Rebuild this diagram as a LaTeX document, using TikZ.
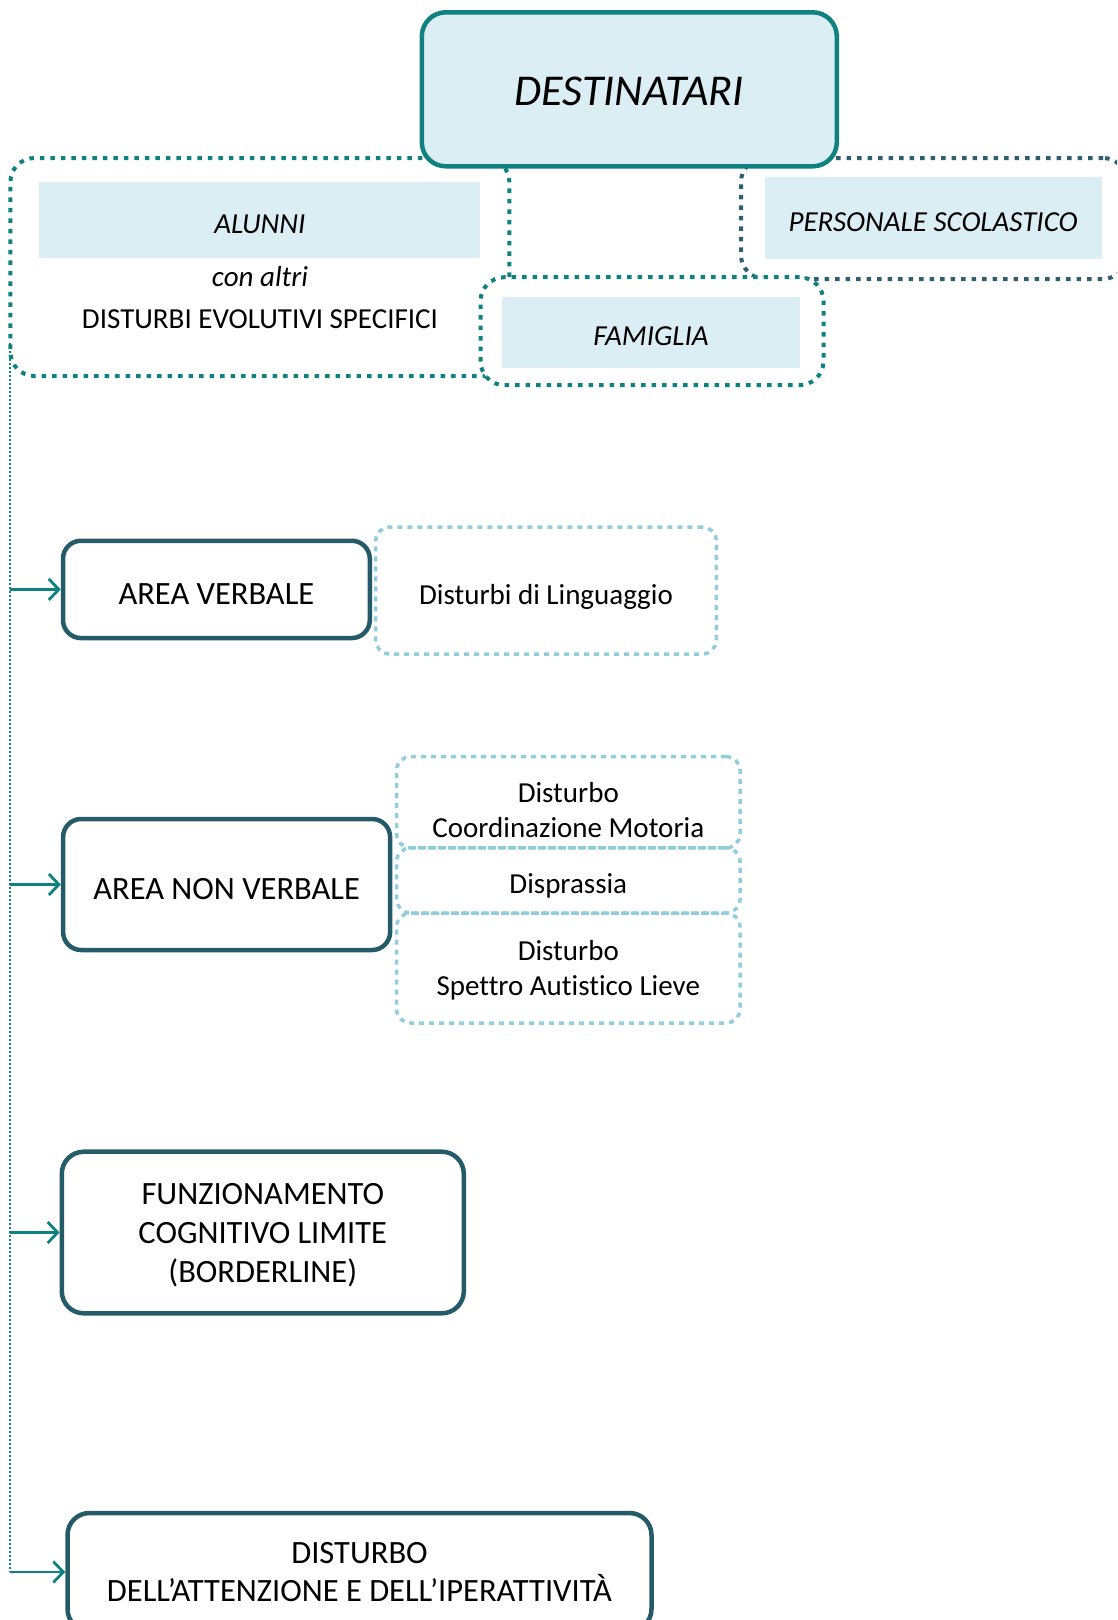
\documentclass[tikz,border=0pt]{standalone}
\usepackage{fontspec}
\setmainfont{Carlito}[Ligatures=NoCommon]
\usetikzlibrary{arrows.meta}
\definecolor{tealc}{HTML}{0F8180}
\definecolor{slatec}{HTML}{255B68}
\definecolor{slated}{HTML}{2D5F6E}
\definecolor{fillc}{HTML}{DAEEF3}
\definecolor{dotc}{HTML}{92CDDC}
\tikzset{
  one/.style={text height=27pt, text depth=0pt},
  onebig/.style={text height=30pt, text depth=0pt},
  frame/.style={draw=slatec, line width=4.5pt, rounded corners=18pt, fill=white, inner sep=0pt, align=center, font=\fontsize{32.5}{39}\selectfont},
  destbox/.style={draw=tealc, fill=fillc, line width=4.5pt, rounded corners=24pt, inner sep=0pt, font=\fontsize{44}{52}\selectfont\itshape, text height=31.4pt, text depth=0pt},
  groupbox/.style={draw=tealc, fill=white, line width=4pt, dash pattern=on 4.5pt off 6pt, rounded corners=24pt, inner sep=0pt},
  band/.style={fill=fillc, inner sep=0pt, font=\fontsize{29}{39}\selectfont\itshape, one},
  plain/.style={inner sep=0pt, font=\fontsize{29}{39}\selectfont, one},
  subbox/.style={draw=dotc, line width=3.5pt, dash pattern=on 5pt off 5pt, rounded corners=14pt, inner sep=0pt, align=center, font=\fontsize{29}{35}\selectfont},
  feed/.style={draw=tealc, line width=2.8pt, -{Straight Barb[length=10pt,width=21pt]}},
  trunkline/.style={draw=tealc, line width=2.2pt, dash pattern=on 2pt off 2pt},
}
\begin{document}
\begin{tikzpicture}[x=1pt,y=-1pt]
\useasboundingbox (0,0) rectangle (1117,1620);
\clip (0,0) rectangle (1117,1620);
% group containers
\node[groupbox, minimum width=499pt, minimum height=218pt] (alunniC) at (259.9,267) {};
\node[groupbox, draw=slated, minimum width=386pt, minimum height=121pt] (persC) at (934,218.5) {};
\node[groupbox, minimum width=343pt, minimum height=108pt] (famC) at (652,331.2) {};
% title
\node[destbox, minimum width=415pt, minimum height=154pt] (dest) at (629.3,89.3) {DESTINATARI};
% bands
\node[band, minimum width=441pt, minimum height=76.5pt] (alunni) at (259.9,220) {ALUNNI};
\node[plain, font=\fontsize{29}{39}\selectfont\itshape] (conaltri) at (260,273.2) {con altri};
\node[plain] (des) at (260,314.8) {DISTURBI EVOLUTIVI SPECIFICI};
\node[band, minimum width=337pt, minimum height=82.7pt] (pers) at (933.1,218) {PERSONALE SCOLASTICO};
\node[band, minimum width=298pt, minimum height=71pt] (fam) at (651,332.2) {FAMIGLIA};
% areas
\node[frame, onebig, minimum width=306.8pt, minimum height=97.3pt] (av) at (216.4,589.4) {AREA VERBALE};
\node[subbox, one, minimum width=340.7pt, minimum height=127pt] (ling) at (546,590.5) {Disturbi di Linguaggio};
\node[frame, onebig, minimum width=327pt, minimum height=131pt] (anv) at (226.6,884.5) {AREA NON VERBALE};
\node[subbox, minimum width=343.5pt, minimum height=91.3pt] (dcm) at (568.3,802.2) {\rule{0pt}{35pt}Disturbo\\Coordinazione Motoria};
\node[subbox, one, minimum width=343.5pt, minimum height=65.2pt] (disp) at (568.3,880.4) {Disprassia};
\node[subbox, minimum width=343.5pt, minimum height=110pt] (dsa) at (568.3,968) {\rule{0pt}{25pt}Disturbo\\Spettro Autistico Lieve};
\node[frame, rounded corners=22pt, minimum width=402pt, minimum height=161.6pt] (funz) at (262.8,1232.5) {\rule{0pt}{27pt}FUNZIONAMENTO\\COGNITIVO LIMITE\\(BORDERLINE)};
\node[frame, rounded corners=22pt, minimum width=584pt, minimum height=118pt, font=\fontsize{32.5}{38}\selectfont] (dist) at (359.5,1572) {DISTURBO\\DELL’ATTENZIONE E DELL’IPERATTIVITÀ};
% connectors
\coordinate (trunktop) at (10,343);
\draw[trunkline] (trunktop) -- (trunktop |- dist.west);
\foreach \n in {av,anv,funz,dist}
  \draw[feed] (trunktop |- \n.west) -- (\n.west);
\end{tikzpicture}
\end{document}
